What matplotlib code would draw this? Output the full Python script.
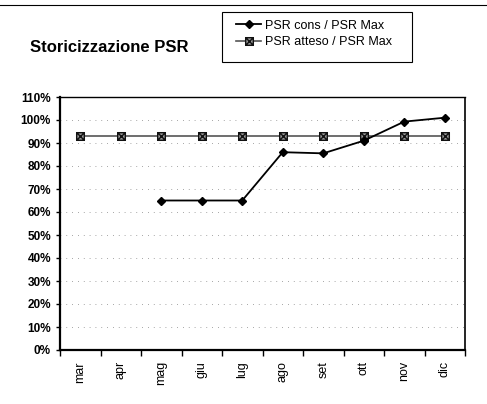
import numpy as np
import matplotlib.pyplot as plt
import matplotlib as mpl
from matplotlib.path import Path
from matplotlib.patches import Rectangle

mpl.rcParams['font.family'] = ['Liberation Sans', 'DejaVu Sans']

mesi = ["mar", "apr", "mag", "giu", "lug", "ago", "set", "ott", "nov", "dic"]
psr_cons = [np.nan, np.nan, 65, 65, 65, 86, 85.5, 91, 99.3, 101]
psr_atteso = [93, 93, 93, 93, 93, 93, 93, 93, 93, 93]
tick_y = [0, 10, 20, 30, 40, 50, 60, 70, 80, 90, 100, 110]

# marker quadrato con la croce
v = [(-1, -1), (1, -1), (1, 1), (-1, 1), (-1, -1), (-1, -1), (1, 1), (-1, 1), (1, -1)]
c = [Path.MOVETO, Path.LINETO, Path.LINETO, Path.LINETO, Path.CLOSEPOLY,
     Path.MOVETO, Path.LINETO, Path.MOVETO, Path.LINETO]
box_x = Path(v, c)

fig = plt.figure(figsize=(4.87, 4.04), dpi=100)
ax = fig.add_axes([60 / 487, 1 - 350 / 404, 405 / 487, 253 / 404])

x = np.arange(len(mesi))
l2, = ax.plot(x, psr_atteso, color="#555555", lw=1.2, marker=box_x, ms=5.5,
              mfc="#999999", mec="#111111", mew=1.0, label="PSR atteso / PSR Max")
l1, = ax.plot(x, psr_cons, color="black", lw=1.3, marker="D", ms=4.5,
              label="PSR cons / PSR Max")

ax.set_xlim(-0.5, len(mesi) - 0.5)
ax.set_ylim(0, 110)
ax.set_yticks(tick_y)
ax.set_yticklabels([f"{t}%" for t in tick_y], fontsize=8.5, fontweight="bold")
ax.set_xticks(x)
ax.set_xticklabels(mesi, rotation=90, fontsize=9)
ax.set_xticks(np.arange(len(mesi) + 1) - 0.5, minor=True)
ax.tick_params(axis="x", which="major", length=0, pad=8)
ax.tick_params(axis="x", which="minor", length=4, direction="out", width=1)
ax.tick_params(axis="y", length=3, direction="out", width=1)
ax.grid(axis="y", color="#888888", lw=0.6, ls=(0, (1, 6)))

for s in ["left", "bottom"]:
    ax.spines[s].set_linewidth(1.6)
ax.spines["top"].set_linewidth(1.0)
ax.spines["right"].set_linewidth(1.2)
ax.spines["right"].set_linestyle((0, (3, 1)))

fig.text(30 / 487, 1 - 47 / 404, "Storicizzazione PSR", fontsize=12,
         fontweight="bold", va="center")

# riquadro della legenda
fig.add_artist(Rectangle((222 / 487, 1 - 62 / 404), 190 / 487, 50 / 404,
                         transform=fig.transFigure, fill=False,
                         edgecolor="black", lw=0.8))
fig.legend(handles=[l1, l2], loc="center left",
           bbox_to_anchor=(236 / 487, 1 - 34 / 404), fontsize=9,
           frameon=False, handlelength=2.0, handletextpad=0.3,
           borderpad=0, labelspacing=0.35, borderaxespad=0)

# linea del bordo superiore
fig.add_artist(plt.Line2D([0, 1], [1 - 5 / 404, 1 - 5 / 404], color="black", lw=0.8))

plt.savefig("out.png", dpi=100)
